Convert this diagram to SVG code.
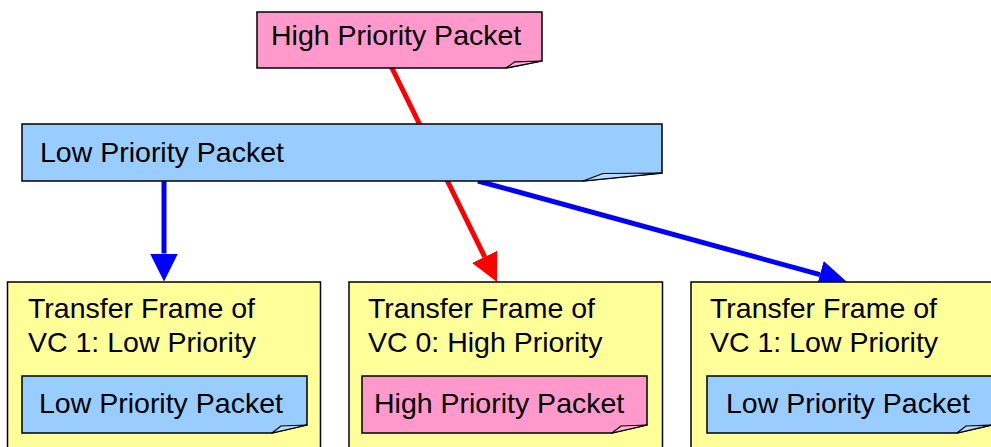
<svg xmlns="http://www.w3.org/2000/svg" width="991" height="447" viewBox="0 0 991 447">
<style>
text{font-family:"Liberation Sans",Arial,Helvetica,sans-serif;font-size:28.5px;fill:#000}
.pink{fill:#FF99CC;stroke:#000;stroke-width:1.5}
.blue{fill:#99CCFF;stroke:#000;stroke-width:1.5}
.yellow{fill:#FFFF99;stroke:#000;stroke-width:1.5}
.fold{stroke:#000;stroke-width:1.2;stroke-linejoin:round}
.pf{fill:#FFB3D9}
.bf{fill:#B8DCFF}
.cr{fill:none;stroke:#FF0000;stroke-width:5}
.cb{fill:none;stroke:#0000FF;stroke-width:5}
</style>
<defs>
<marker id="ahr" markerUnits="userSpaceOnUse" markerWidth="28" markerHeight="28" viewBox="0 0 28 28" refX="0" refY="14" orient="auto"><path d="M0,0 L28,14 L0,28 Z" fill="#FF0000"/></marker>
<marker id="ahb" markerUnits="userSpaceOnUse" markerWidth="28" markerHeight="28" viewBox="0 0 28 28" refX="0" refY="14" orient="auto"><path d="M0,0 L28,14 L0,28 Z" fill="#0000FF"/></marker>
</defs>
<g id="connectors">
<line class="cb" x1="164" y1="181" x2="164" y2="253.5" marker-end="url(#ahb)"/>
<line class="cr" x1="390" y1="64" x2="484.7" y2="256.9" marker-end="url(#ahr)"/>
<line class="cb" x1="478" y1="181" x2="820" y2="274.6" marker-end="url(#ahb)"/>
</g>
<g id="high-packet-top">
<path class="pink" d="M257,12 H542 V61 L506,68 H257 Z"/>
<path class="fold pf" d="M506,68 L515,61.8 L542,61 Z"/>
<text x="271" y="45">High Priority Packet</text>
</g>
<g id="low-packet-top">
<path class="blue" d="M22,124 H662 V173 L583,181 H22 Z"/>
<path class="fold bf" d="M583,181 L603,173.5 L662,173 Z"/>
<text x="40" y="162">Low Priority Packet</text>
</g>
<g id="frame-vc1-left">
<rect class="yellow" x="7.5" y="282" width="313" height="180"/>
<text x="28" y="318">Transfer Frame of</text>
<text x="28" y="352">VC 1: Low Priority</text>
<g id="frame-vc1-left-packet">
<path class="blue" d="M22,376 H307 V425 L272,433 H22 Z"/>
<path class="fold bf" d="M272,433 L281,426 L307,425 Z"/>
<text x="39" y="413">Low Priority Packet</text>
</g>
</g>
<g id="frame-vc0">
<rect class="yellow" x="349" y="282" width="313.5" height="180"/>
<text x="368" y="318">Transfer Frame of</text>
<text x="368" y="352">VC 0: High Priority</text>
<g id="frame-vc0-packet">
<path class="pink" d="M362,376 H647 V425 L612,433 H362 Z"/>
<path class="fold pf" d="M612,433 L621,426 L647,425 Z"/>
<text x="374" y="413">High Priority Packet</text>
</g>
</g>
<g id="frame-vc1-right">
<rect class="yellow" x="691" y="282" width="320" height="180"/>
<text x="710" y="318">Transfer Frame of</text>
<text x="710" y="352">VC 1: Low Priority</text>
<g id="frame-vc1-right-packet">
<path class="blue" d="M707,376 H992 V425 L957,433 H707 Z"/>
<path class="fold bf" d="M957,433 L966,426 L992,425 Z"/>
<text x="726" y="413">Low Priority Packet</text>
</g>
</g>
</svg>
